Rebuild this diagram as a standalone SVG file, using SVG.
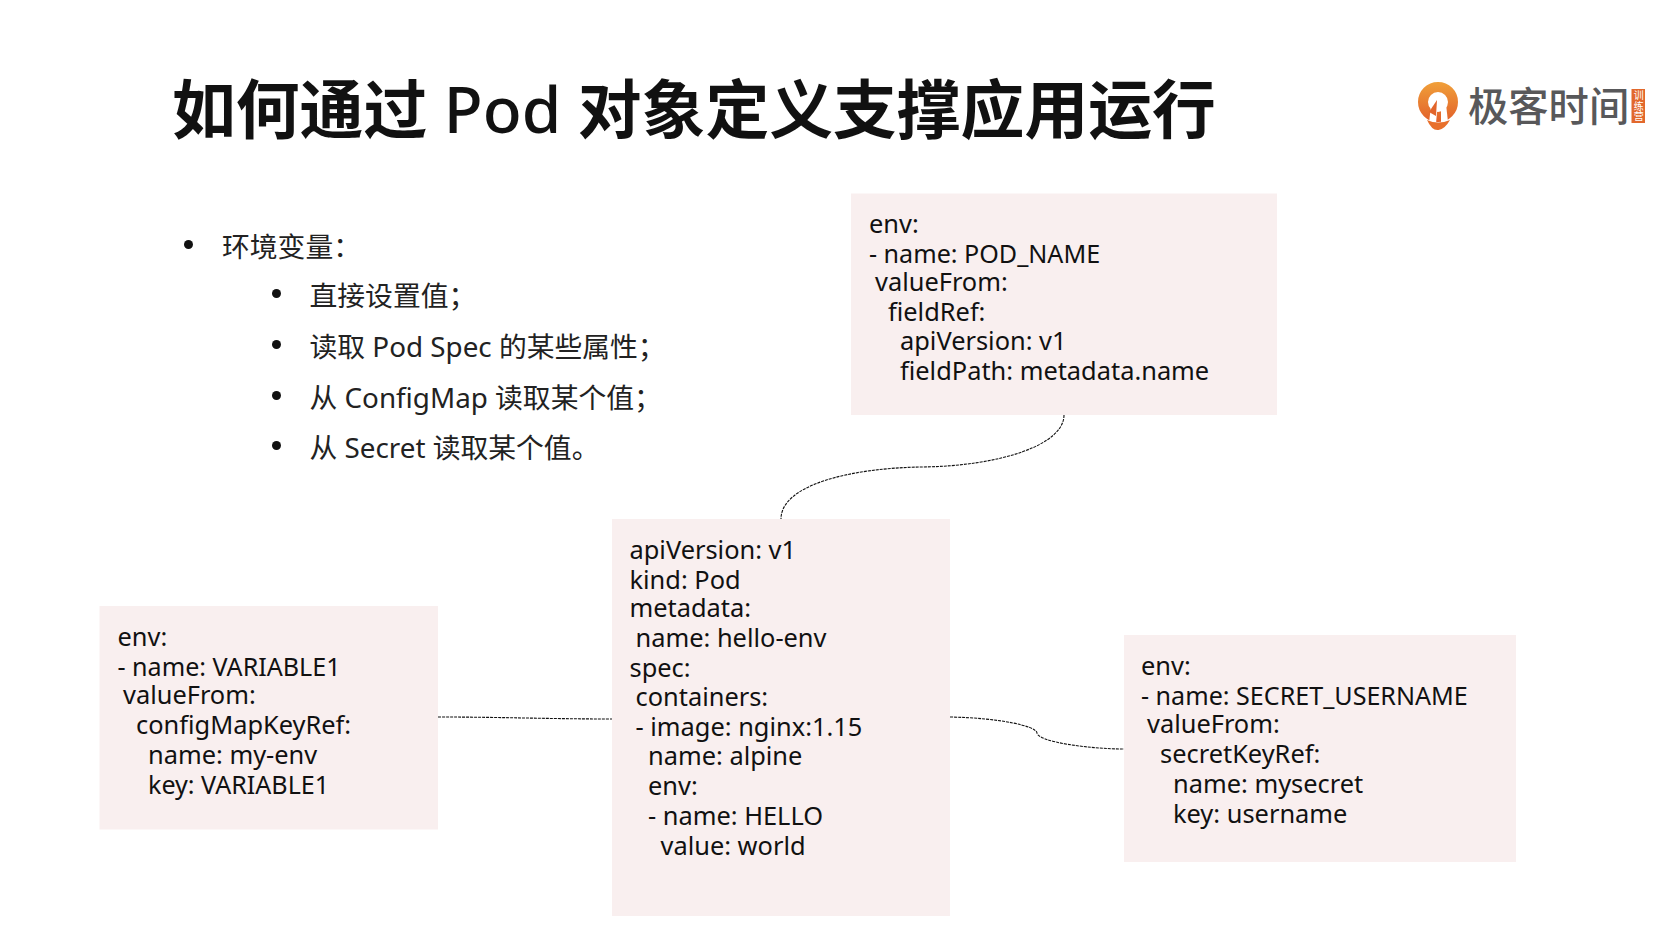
<svg xmlns="http://www.w3.org/2000/svg" width="1676" height="949" viewBox="0 0 1676 949">
<defs>
<linearGradient id="pin" gradientUnits="userSpaceOnUse" x1="1438" y1="82" x2="1438" y2="122"><stop offset="0" stop-color="#f0a03a"/><stop offset="1" stop-color="#e2602a"/></linearGradient>
</defs>
<style>
text{font-family:"Noto Sans","Noto Sans CJK SC",sans-serif;fill:#111}
.box{fill:#f9efef}
.code{font-size:25.400px}
.up{font-size:25.100px}
.bul{font-size:27.800px;fill:#222}
.dot{fill:#111}
.conn{fill:none;stroke:#111;stroke-width:1.100;stroke-dasharray:3 1}
</style>
<rect width="1676" height="949" fill="#fff"/>
<g id="title"><text x="172" y="133" font-size="63.800" font-weight="700">如何通过 <tspan font-weight="500">Pod</tspan> 对象定义支撑应用运行</text></g>
<g id="logo">
<circle cx="1438" cy="102" r="15" fill="none" stroke="url(#pin)" stroke-width="10"/>
<path fill="#fff" d="M1431 106L1438 102L1436 123L1429 123z"/>
<path fill="#fff" d="M1441 104L1446 104L1448 122L1441 122z"/>
<path fill="#e2642a" d="M1429 112L1437 100L1436 116z"/>
<path fill="#e8702c" d="M1427 120q11 5 23 0q-5 9-11.500 10t-11.500-10z"/>
<text x="1468" y="120.500" font-size="40.300" font-weight="500" style="fill:#58585a">极客时间</text>
<rect x="1631.500" y="89" width="13.500" height="34" fill="#e2682c"/>
<text x="1638.200" y="90.500" font-size="10" letter-spacing="0.600" style="fill:#fff;writing-mode:vertical-rl">训练营</text>
</g>
<g id="bullets">
<circle class="dot" cx="188.500" cy="244.500" r="4.500"/><text class="bul" x="222" y="257">环境变量：</text>
<circle class="dot" cx="276.500" cy="293.500" r="4.500"/><text class="bul" x="309.500" y="306">直接设置值；</text>
<circle class="dot" cx="276.500" cy="344.500" r="4.500"/><text class="bul" x="309.500" y="357">读取 Pod Spec 的某些属性；</text>
<circle class="dot" cx="276.500" cy="395.500" r="4.500"/><text class="bul" x="309.500" y="408">从 ConfigMap 读取某个值；</text>
<circle class="dot" cx="276.500" cy="445.500" r="4.500"/><text class="bul" x="309.500" y="458">从 Secret 读取某个值。</text>
</g>
<g id="connectors">
<path class="conn" d="M1064 415C1064 445 1000 466 922 467C850 468 781 485 781 519"/>
<path class="conn" d="M438 717C500 717 550 719 612 719"/>
<path class="conn" d="M950 717C1000 718 1036 726 1037 733C1038 742 1090 749 1124 749"/>
</g>
<g id="node-fieldref">
<rect class="box" x="851" y="193.500" width="426" height="221.500"/>
<text class="code" x="869" y="233">env:</text>
<text class="code up" x="869" y="263">- name: POD_NAME</text>
<text class="code" x="875" y="291">valueFrom:</text>
<text class="code" x="888" y="321">fieldRef:</text>
<text class="code" x="900" y="350">apiVersion: v1</text>
<text class="code" x="900" y="380">fieldPath: metadata.name</text>
</g>
<g id="node-pod">
<rect class="box" x="612" y="519" width="338" height="397"/>
<text class="code" x="629.500" y="559">apiVersion: v1</text>
<text class="code" x="629.500" y="589">kind: Pod</text>
<text class="code" x="629.500" y="617">metadata:</text>
<text class="code" x="635.500" y="647">name: hello-env</text>
<text class="code" x="629.500" y="677">spec:</text>
<text class="code" x="635.500" y="706">containers:</text>
<text class="code" x="635.500" y="736">- image: nginx:1.15</text>
<text class="code" x="648" y="765">name: alpine</text>
<text class="code" x="648" y="795">env:</text>
<text class="code" x="648" y="825">- name: HELLO</text>
<text class="code" x="660.500" y="855">value: world</text>
</g>
<g id="node-configmap">
<rect class="box" x="99.500" y="606" width="338.500" height="223.500"/>
<text class="code" x="117.500" y="646">env:</text>
<text class="code up" x="117.500" y="676">- name: VARIABLE1</text>
<text class="code" x="123" y="704">valueFrom:</text>
<text class="code" x="136" y="734">configMapKeyRef:</text>
<text class="code" x="148" y="764">name: my-env</text>
<text class="code up" x="148" y="794">key: VARIABLE1</text>
</g>
<g id="node-secret">
<rect class="box" x="1124" y="635" width="392" height="227"/>
<text class="code" x="1141" y="675">env:</text>
<text class="code up" x="1141" y="705">- name: SECRET_USERNAME</text>
<text class="code" x="1147" y="733">valueFrom:</text>
<text class="code" x="1160" y="763">secretKeyRef:</text>
<text class="code" x="1173" y="793">name: mysecret</text>
<text class="code" x="1173" y="823">key: username</text>
</g>
</svg>
